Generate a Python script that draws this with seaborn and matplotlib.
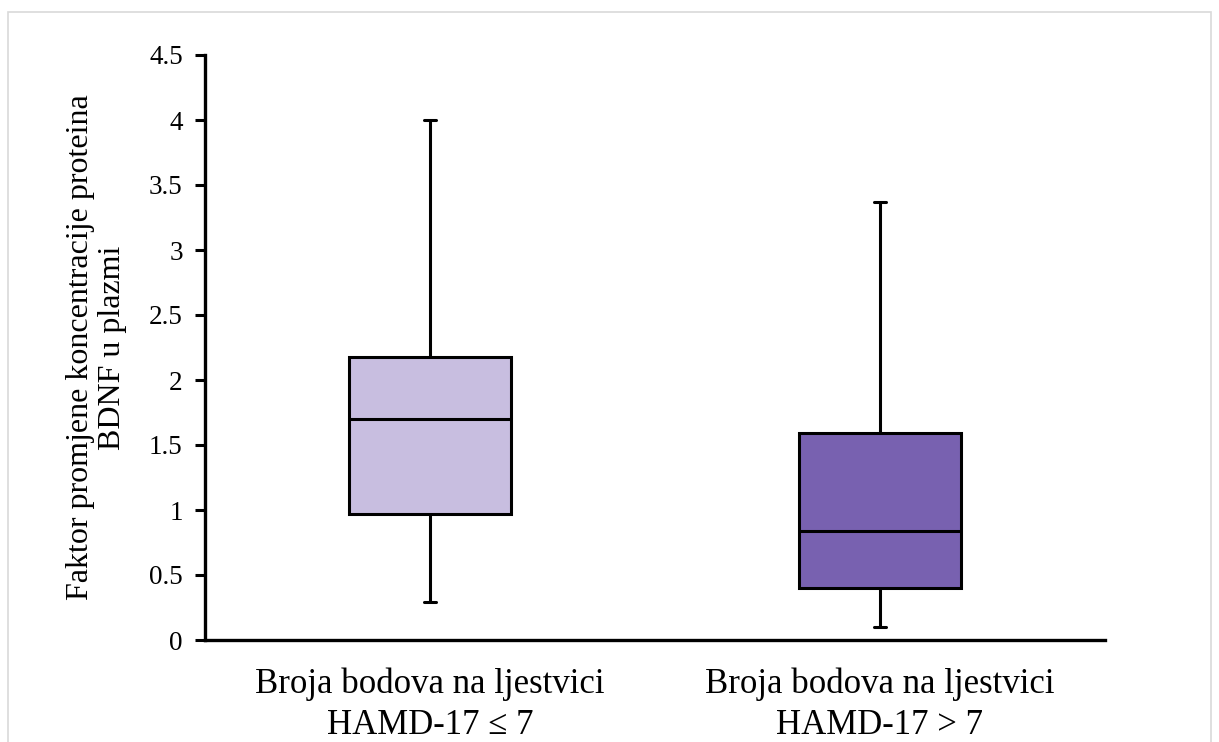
import numpy as np
import pandas as pd
import matplotlib
matplotlib.use("Agg")
import matplotlib.pyplot as plt
import seaborn as sns
from matplotlib.patches import Rectangle
from matplotlib.ticker import FixedLocator

categories = ["Broja bodova na ljestvici\nHAMD-17 \u2264 7",
              "Broja bodova na ljestvici\nHAMD-17 > 7"]
# five-number summaries: min, Q1, median, Q3, max
group1 = [0.29, 0.97, 1.70, 2.18, 4.00]
group2 = [0.10, 0.40, 0.84, 1.59, 3.37]
colors = ["#C8BEE0", "#7861B0"]
yticks = [0, 0.5, 1, 1.5, 2, 2.5, 3, 3.5, 4, 4.5]
ytick_labels = ["0", "0.5", "1", "1.5", "2", "2.5", "3", "3.5", "4", "4.5"]
ylabel = "Faktor promjene koncentracije proteina\nBDNF u plazmi"

df = pd.DataFrame({
    "group": [categories[0]] * len(group1) + [categories[1]] * len(group2),
    "value": group1 + group2,
})

sns.set_style("white")
plt.rcParams["font.family"] = ["Liberation Serif", "DejaVu Serif"]
plt.rcParams["text.color"] = "black"
plt.rcParams["axes.labelcolor"] = "black"
plt.rcParams["xtick.color"] = "black"
plt.rcParams["ytick.color"] = "black"

fig = plt.figure(figsize=(12.19, 7.42), dpi=100)
ax = fig.add_axes([205 / 1219, 1 - 640 / 742, 900 / 1219, 585 / 742])

sns.boxplot(data=df, x="group", y="value", hue="group", palette=colors,
            order=categories, hue_order=categories, legend=False,
            whis=(0, 100), width=0.36, linewidth=2.2, linecolor="black",
            showfliers=False, dodge=False, saturation=1, ax=ax,
            capprops={"linewidth": 2.2}, whiskerprops={"linewidth": 2.2},
            medianprops={"linewidth": 2.2})

# shrink caps
for line in ax.lines:
    xd = np.asarray(line.get_xdata(), dtype=float)
    yd = np.asarray(line.get_ydata(), dtype=float)
    if len(xd) == 2 and yd[0] == yd[1] and abs(xd[1] - xd[0]) > 0 and abs(xd[1] - xd[0]) < 0.3:
        c = xd.mean()
        line.set_xdata([c - 0.014, c + 0.014])

ax.set_xlim(-0.5, 1.5)
ax.set_ylim(0, 4.5)
ax.set_yticks(yticks)
ax.set_yticklabels(ytick_labels, fontsize=19.5)
ax.set_xticks([0, 1])
ax.set_xticklabels(categories, fontsize=25, linespacing=1.3)
ax.xaxis.set_minor_locator(FixedLocator([-0.5, 0.5, 1.5]))
ax.tick_params(axis="x", which="major", length=0, pad=20)
ax.tick_params(axis="x", which="minor", length=8, width=2.2, direction="out", color="black")
ax.tick_params(axis="y", which="major", length=7, width=2.2, direction="out", color="black",
               left=True, pad=9)
ax.set_xlabel("")
ax.set_ylabel(ylabel, fontsize=23, linespacing=1.14, labelpad=16)

for s in ["top", "right"]:
    ax.spines[s].set_visible(False)
for s in ["left", "bottom"]:
    ax.spines[s].set_color("black")
    ax.spines[s].set_linewidth(2.4)

fig.patches.append(Rectangle((8 / 1219, -0.05), 1203 / 1219, 1 - 12 / 742 + 0.05,
                             transform=fig.transFigure, fill=False,
                             edgecolor="#D9D9D9", linewidth=1.2, zorder=0))

fig.savefig("out.png", dpi=100)
